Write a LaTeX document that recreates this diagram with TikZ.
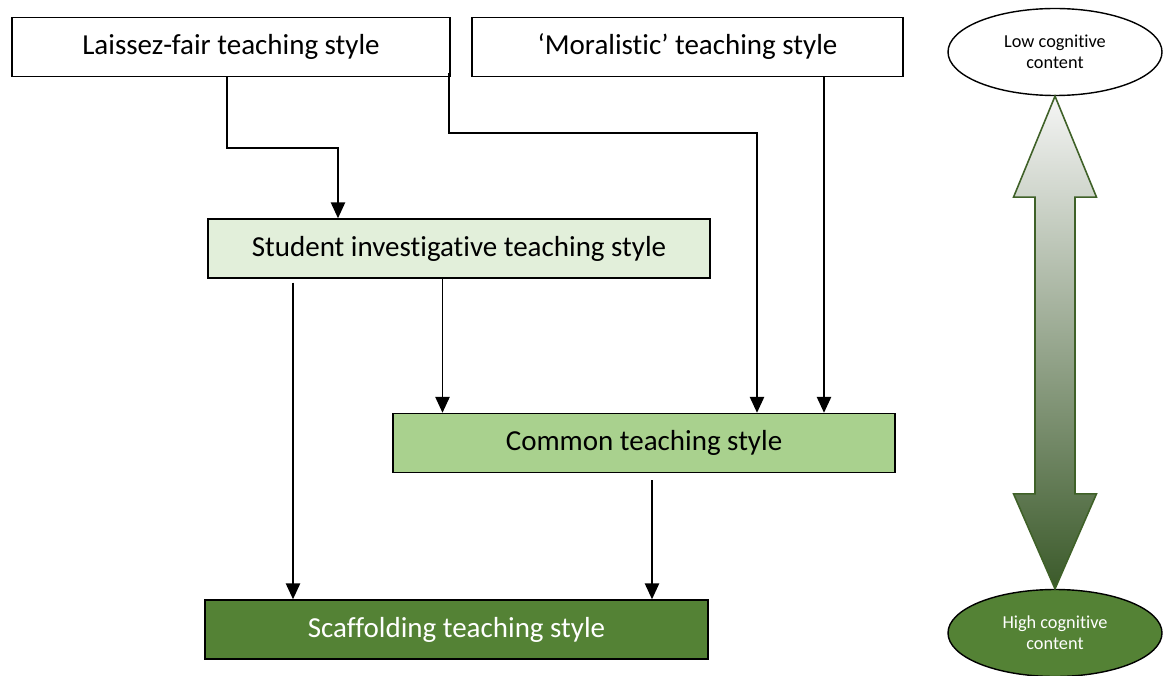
\documentclass[tikz,border=0pt]{standalone}
\usepackage{fontspec}
\setmainfont{Carlito}[Ligatures=NoCommon]
\usepackage{tikz}
\usetikzlibrary{positioning,arrows.meta,calc,shapes.geometric}

\definecolor{palegreen}{HTML}{E2EFDA}
\definecolor{midgreen}{HTML}{A9D18E}
\definecolor{darkgreen}{HTML}{548235}
\definecolor{edgegreen}{HTML}{3F6128}
\definecolor{shadegreen}{HTML}{3B5A2A}
\definecolor{shadowgreen}{HTML}{9DAE90}

\begin{document}
\begin{tikzpicture}[every node/.style={font=\fontsize{16.5}{20}\selectfont},
    stylebox/.style={draw, line width=0.8pt, minimum height=1.18cm, inner sep=0pt},
    conn/.style={line width=1.1pt, -{Triangle[width=8pt,length=9pt]}},
    level/.style={ellipse, draw, line width=0.8pt, minimum width=4.28cm, minimum height=1.74cm, inner sep=0pt, align=center, font=\fontsize{10.4}{12}\selectfont}]
    \useasboundingbox (0,0) rectangle (23.3,13.5);

    % Top row - starting styles
    \node[stylebox, minimum width=8.76cm] (lf) at (4.62, 12.56) {Laissez-fair teaching style};
    \node[stylebox, minimum width=8.62cm] (mo) at (13.75, 12.56) {‘Moralistic’ teaching style};

    % Middle styles
    \node[stylebox, fill=palegreen, minimum width=10.04cm] (si) at (9.18, 8.53) {Student investigative teaching style};
    \node[stylebox, fill=midgreen, minimum width=10.04cm] (cm) at (12.88, 4.64) {Common teaching style};

    % Bottom style
    \node[stylebox, fill=darkgreen, text=white, minimum width=10.06cm] (sc) at (9.13, 0.91) {Scaffolding teaching style};

    % Connectors
    \draw[conn] ([xshift=-0.08cm]lf.south) -- ++(0,-1.42) -| ([xshift=-2.42cm]si.north);
    \draw[conn] ([xshift=-0.04cm,yshift=0.08cm]lf.south east) -- ++(0,-1.2) -| ([xshift=2.26cm]cm.north);
    \coordinate (m1) at ([xshift=2.73cm]mo.south);
    \draw[conn] (m1) -- (m1 |- cm.north);
    \coordinate (s1) at ([xshift=-3.32cm,yshift=-0.08cm]si.south);
    \draw[conn] (s1) -- (s1 |- sc.north);
    \coordinate (s2) at ([xshift=-0.33cm]si.south);
    \draw[conn] (s2) -- (s2 |- cm.north);
    \coordinate (c1) at ([xshift=0.16cm,yshift=-0.14cm]cm.south);
    \draw[conn] (c1) -- (c1 |- sc.north);

    % Cognitive content scale
    \node[level, fill=white] (low) at (21.1, 12.46) {Low cognitive\\content};
    \node[level, fill=darkgreen, text=white] (high) at (21.1, 0.84) {High cognitive\\content};

    \coordinate (hb1) at ($(low.south)+(0,-2.02)$);
    \coordinate (hb2) at ($(high.north)+(0,1.9)$);
    \fill[shadowgreen, shift={(0.06,-0.06)}] (low.south) -- ($(hb1)+(0.83,0)$) -- ($(hb1)+(0.4,0)$) -- ($(hb2)+(0.4,0)$) -- ($(hb2)+(0.83,0)$) -- (high.north) -- ($(hb2)+(-0.83,0)$) -- ($(hb2)+(-0.4,0)$) -- ($(hb1)+(-0.4,0)$) -- ($(hb1)+(-0.83,0)$) -- cycle;
    \draw[edgegreen, line width=0.9pt, top color=white!96!black, bottom color=shadegreen] (low.south) -- ($(hb1)+(0.83,0)$) -- ($(hb1)+(0.4,0)$) -- ($(hb2)+(0.4,0)$) -- ($(hb2)+(0.83,0)$) -- (high.north) -- ($(hb2)+(-0.83,0)$) -- ($(hb2)+(-0.4,0)$) -- ($(hb1)+(-0.4,0)$) -- ($(hb1)+(-0.83,0)$) -- cycle;
\end{tikzpicture}
\end{document}
